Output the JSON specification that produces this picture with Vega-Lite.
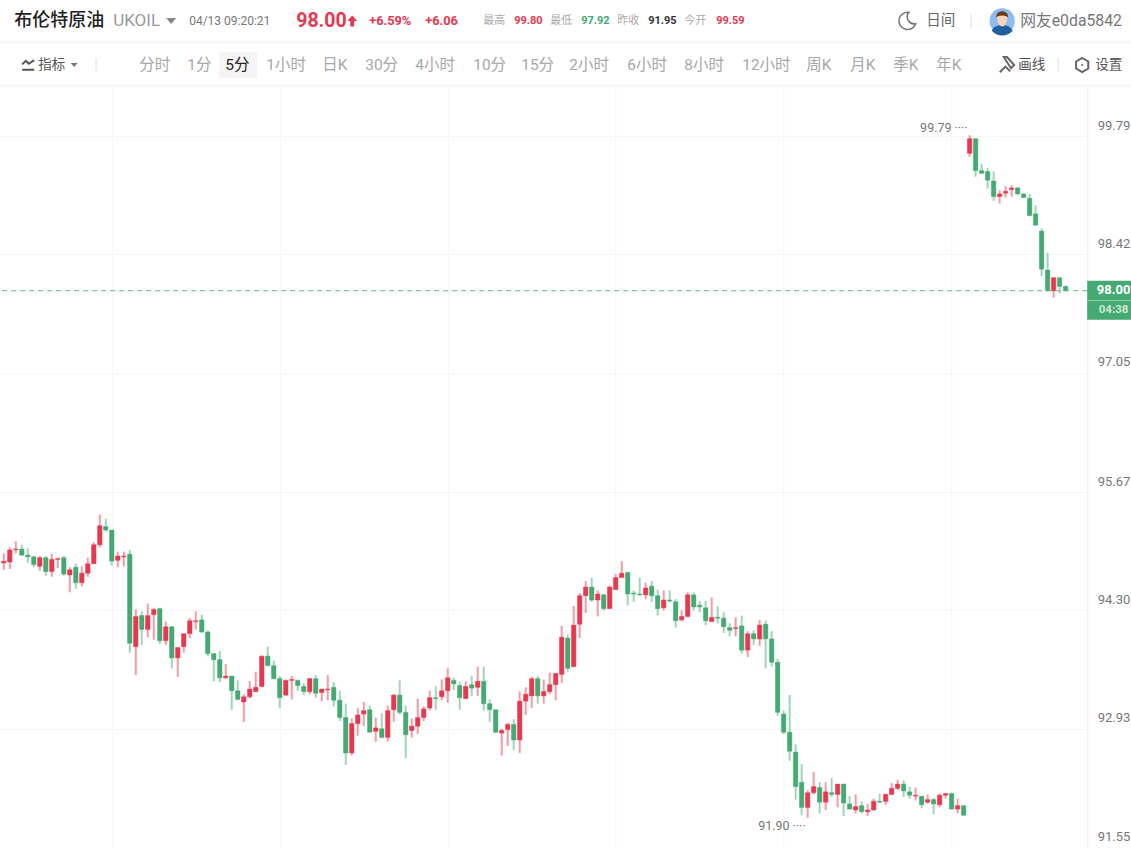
{
  "$schema": "https://vega.github.io/schema/vega-lite/v6.json",
  "padding": {"left": -0.8, "top": 0, "right": 0, "bottom": 0},
  "spacing": 0,
  "bounds": "flush",
  "background": "white",
  "config": {"view": {"stroke": null}, "text": {"font": "Roboto, Noto Sans CJK SC"}},
  "datasets": {
    "candles": [
      {"i":0,"o":94.85,"h":94.96,"l":94.77,"c":94.87},{"i":1,"o":94.86,"h":95.03,"l":94.78,"c":95.0},{"i":2,"o":95.0,"h":95.1,"l":94.96,"c":95.01},{"i":3,"o":95.01,"h":95.06,"l":94.93,"c":94.94},
      {"i":4,"o":94.94,"h":95.02,"l":94.85,"c":94.92},{"i":5,"o":94.92,"h":94.93,"l":94.8,"c":94.83},{"i":6,"o":94.81,"h":94.93,"l":94.76,"c":94.91},{"i":7,"o":94.91,"h":94.93,"l":94.7,"c":94.75},
      {"i":8,"o":94.75,"h":94.95,"l":94.69,"c":94.89},{"i":9,"o":94.89,"h":94.91,"l":94.79,"c":94.9},{"i":10,"o":94.91,"h":94.93,"l":94.7,"c":94.72},{"i":11,"o":94.71,"h":94.8,"l":94.51,"c":94.77},
      {"i":12,"o":94.8,"h":94.84,"l":94.55,"c":94.62},{"i":13,"o":94.62,"h":94.81,"l":94.58,"c":94.73},{"i":14,"o":94.73,"h":94.91,"l":94.69,"c":94.84},{"i":15,"o":94.84,"h":95.09,"l":94.84,"c":95.06},
      {"i":16,"o":95.06,"h":95.41,"l":95.03,"c":95.28},{"i":17,"o":95.27,"h":95.36,"l":95.21,"c":95.23},{"i":18,"o":95.23,"h":95.23,"l":94.82,"c":94.87},{"i":19,"o":94.88,"h":94.98,"l":94.8,"c":94.93},
      {"i":20,"o":94.92,"h":94.98,"l":94.81,"c":94.93},{"i":21,"o":94.95,"h":95.0,"l":93.81,"c":93.92},{"i":22,"o":93.88,"h":94.31,"l":93.55,"c":94.23},{"i":23,"o":94.24,"h":94.29,"l":93.9,"c":94.08},
      {"i":24,"o":94.08,"h":94.38,"l":93.99,"c":94.24},{"i":25,"o":94.25,"h":94.33,"l":93.96,"c":94.31},{"i":26,"o":94.32,"h":94.33,"l":93.91,"c":93.95},{"i":27,"o":93.95,"h":94.17,"l":93.9,"c":94.11},
      {"i":28,"o":94.11,"h":94.12,"l":93.63,"c":93.75},{"i":29,"o":93.75,"h":93.87,"l":93.53,"c":93.87},{"i":30,"o":93.88,"h":94.03,"l":93.81,"c":94.03},{"i":31,"o":94.03,"h":94.21,"l":93.98,"c":94.18},
      {"i":32,"o":94.17,"h":94.29,"l":94.08,"c":94.18},{"i":33,"o":94.19,"h":94.25,"l":94.04,"c":94.05},{"i":34,"o":94.05,"h":94.07,"l":93.77,"c":93.8},{"i":35,"o":93.8,"h":93.8,"l":93.48,"c":93.73},
      {"i":36,"o":93.73,"h":93.83,"l":93.47,"c":93.52},{"i":37,"o":93.52,"h":93.68,"l":93.51,"c":93.54},{"i":38,"o":93.54,"h":93.54,"l":93.15,"c":93.37},{"i":39,"o":93.37,"h":93.49,"l":93.26,"c":93.27},
      {"i":40,"o":93.24,"h":93.33,"l":93.01,"c":93.3},{"i":41,"o":93.3,"h":93.48,"l":93.28,"c":93.39},{"i":42,"o":93.36,"h":93.59,"l":93.36,"c":93.41},{"i":43,"o":93.42,"h":93.78,"l":93.41,"c":93.77},
      {"i":44,"o":93.77,"h":93.88,"l":93.66,"c":93.66},{"i":45,"o":93.66,"h":93.72,"l":93.5,"c":93.51},{"i":46,"o":93.51,"h":93.54,"l":93.17,"c":93.29},{"i":47,"o":93.32,"h":93.5,"l":93.31,"c":93.49},
      {"i":48,"o":93.49,"h":93.54,"l":93.27,"c":93.5},{"i":49,"o":93.49,"h":93.5,"l":93.37,"c":93.43},{"i":50,"o":93.42,"h":93.46,"l":93.32,"c":93.36},{"i":51,"o":93.36,"h":93.52,"l":93.33,"c":93.51},
      {"i":52,"o":93.51,"h":93.55,"l":93.29,"c":93.34},{"i":53,"o":93.35,"h":93.39,"l":93.25,"c":93.39},{"i":54,"o":93.38,"h":93.55,"l":93.26,"c":93.39},{"i":55,"o":93.41,"h":93.47,"l":93.19,"c":93.26},
      {"i":56,"o":93.26,"h":93.37,"l":93.02,"c":93.06},{"i":57,"o":93.06,"h":93.22,"l":92.51,"c":92.65},{"i":58,"o":92.65,"h":93.05,"l":92.62,"c":92.99},{"i":59,"o":92.99,"h":93.17,"l":92.85,"c":93.09},
      {"i":60,"o":93.1,"h":93.24,"l":92.96,"c":93.14},{"i":61,"o":93.15,"h":93.2,"l":92.89,"c":92.89},{"i":62,"o":92.9,"h":93.06,"l":92.78,"c":92.94},{"i":63,"o":92.93,"h":93.11,"l":92.82,"c":92.83},
      {"i":64,"o":92.83,"h":93.2,"l":92.78,"c":93.14},{"i":65,"o":93.15,"h":93.33,"l":93.01,"c":93.32},{"i":66,"o":93.32,"h":93.49,"l":93.09,"c":93.12},{"i":67,"o":93.12,"h":93.2,"l":92.59,"c":92.86},
      {"i":68,"o":92.91,"h":93.05,"l":92.83,"c":92.96},{"i":69,"o":92.96,"h":93.28,"l":92.87,"c":93.06},{"i":70,"o":93.06,"h":93.19,"l":93.02,"c":93.16},{"i":71,"o":93.17,"h":93.37,"l":93.14,"c":93.29},
      {"i":72,"o":93.29,"h":93.42,"l":93.15,"c":93.28},{"i":73,"o":93.3,"h":93.5,"l":93.26,"c":93.37},{"i":74,"o":93.37,"h":93.63,"l":93.23,"c":93.52},{"i":75,"o":93.49,"h":93.52,"l":93.38,"c":93.45},
      {"i":76,"o":93.43,"h":93.47,"l":93.15,"c":93.29},{"i":77,"o":93.28,"h":93.48,"l":93.27,"c":93.42},{"i":78,"o":93.44,"h":93.54,"l":93.31,"c":93.4},{"i":79,"o":93.41,"h":93.65,"l":93.31,"c":93.48},
      {"i":80,"o":93.48,"h":93.65,"l":93.14,"c":93.22},{"i":81,"o":93.22,"h":93.27,"l":93.01,"c":93.15},{"i":82,"o":93.15,"h":93.15,"l":92.88,"c":92.89},{"i":83,"o":92.88,"h":92.93,"l":92.62,"c":92.91},
      {"i":84,"o":92.92,"h":93.0,"l":92.73,"c":92.98},{"i":85,"o":92.98,"h":93.04,"l":92.68,"c":92.8},{"i":86,"o":92.8,"h":93.36,"l":92.65,"c":93.25},{"i":87,"o":93.25,"h":93.41,"l":93.09,"c":93.33},
      {"i":88,"o":93.31,"h":93.53,"l":93.17,"c":93.51},{"i":89,"o":93.51,"h":93.54,"l":93.22,"c":93.31},{"i":90,"o":93.31,"h":93.5,"l":93.22,"c":93.36},{"i":91,"o":93.36,"h":93.58,"l":93.33,"c":93.44},
      {"i":92,"o":93.44,"h":93.57,"l":93.26,"c":93.57},{"i":93,"o":93.56,"h":94.12,"l":93.46,"c":93.99},{"i":94,"o":93.98,"h":94.02,"l":93.59,"c":93.63},{"i":95,"o":93.65,"h":94.35,"l":93.64,"c":94.13},
      {"i":96,"o":94.14,"h":94.5,"l":93.98,"c":94.47},{"i":97,"o":94.47,"h":94.64,"l":94.27,"c":94.57},{"i":98,"o":94.57,"h":94.68,"l":94.4,"c":94.42},{"i":99,"o":94.42,"h":94.53,"l":94.23,"c":94.49},
      {"i":100,"o":94.48,"h":94.49,"l":94.3,"c":94.32},{"i":101,"o":94.32,"h":94.59,"l":94.32,"c":94.57},{"i":102,"o":94.54,"h":94.72,"l":94.54,"c":94.68},{"i":103,"o":94.68,"h":94.87,"l":94.68,"c":94.73},
      {"i":104,"o":94.74,"h":94.74,"l":94.36,"c":94.49},{"i":105,"o":94.5,"h":94.53,"l":94.4,"c":94.49},{"i":106,"o":94.49,"h":94.68,"l":94.47,"c":94.48},{"i":107,"o":94.48,"h":94.62,"l":94.43,"c":94.56},
      {"i":108,"o":94.58,"h":94.64,"l":94.4,"c":94.47},{"i":109,"o":94.47,"h":94.54,"l":94.24,"c":94.32},{"i":110,"o":94.33,"h":94.53,"l":94.3,"c":94.42},{"i":111,"o":94.42,"h":94.53,"l":94.39,"c":94.41},
      {"i":112,"o":94.4,"h":94.43,"l":94.1,"c":94.18},{"i":113,"o":94.19,"h":94.3,"l":94.17,"c":94.23},{"i":114,"o":94.23,"h":94.51,"l":94.22,"c":94.48},{"i":115,"o":94.48,"h":94.51,"l":94.3,"c":94.34},
      {"i":116,"o":94.36,"h":94.41,"l":94.28,"c":94.34},{"i":117,"o":94.33,"h":94.41,"l":94.13,"c":94.18},{"i":118,"o":94.17,"h":94.45,"l":94.17,"c":94.22},{"i":119,"o":94.22,"h":94.35,"l":94.15,"c":94.21},
      {"i":120,"o":94.21,"h":94.28,"l":94.04,"c":94.11},{"i":121,"o":94.1,"h":94.15,"l":94.0,"c":94.07},{"i":122,"o":94.09,"h":94.22,"l":94.0,"c":94.1},{"i":123,"o":94.12,"h":94.24,"l":93.8,"c":93.84},
      {"i":124,"o":93.84,"h":94.06,"l":93.76,"c":94.03},{"i":125,"o":94.03,"h":94.07,"l":93.9,"c":93.97},{"i":126,"o":93.97,"h":94.19,"l":93.89,"c":94.13},{"i":127,"o":94.14,"h":94.18,"l":93.63,"c":93.97},
      {"i":128,"o":93.97,"h":94.06,"l":93.65,"c":93.7},{"i":129,"o":93.7,"h":93.74,"l":93.08,"c":93.12},{"i":130,"o":93.1,"h":93.14,"l":92.87,"c":92.89},{"i":131,"o":92.89,"h":93.32,"l":92.56,"c":92.67},
      {"i":132,"o":92.66,"h":92.75,"l":92.11,"c":92.26},{"i":133,"o":92.31,"h":92.52,"l":91.93,"c":92.02},{"i":134,"o":92.02,"h":92.22,"l":91.9,"c":92.19},{"i":135,"o":92.19,"h":92.43,"l":92.17,"c":92.26},
      {"i":136,"o":92.25,"h":92.31,"l":91.95,"c":92.08},{"i":137,"o":92.08,"h":92.31,"l":91.99,"c":92.2},{"i":138,"o":92.19,"h":92.36,"l":92.14,"c":92.17},{"i":139,"o":92.17,"h":92.29,"l":92.02,"c":92.29},
      {"i":140,"o":92.29,"h":92.29,"l":91.92,"c":92.07},{"i":141,"o":92.06,"h":92.15,"l":92.0,"c":92.0},{"i":142,"o":91.99,"h":92.17,"l":91.95,"c":92.03},{"i":143,"o":92.04,"h":92.09,"l":91.95,"c":91.97},
      {"i":144,"o":91.97,"h":92.06,"l":91.92,"c":91.99},{"i":145,"o":91.99,"h":92.12,"l":91.98,"c":92.09},{"i":146,"o":92.09,"h":92.18,"l":92.07,"c":92.08},{"i":147,"o":92.09,"h":92.18,"l":92.05,"c":92.17},
      {"i":148,"o":92.17,"h":92.3,"l":92.16,"c":92.24},{"i":149,"o":92.24,"h":92.34,"l":92.22,"c":92.29},{"i":150,"o":92.29,"h":92.33,"l":92.14,"c":92.21},{"i":151,"o":92.2,"h":92.26,"l":92.12,"c":92.16},
      {"i":152,"o":92.15,"h":92.25,"l":92.1,"c":92.16},{"i":153,"o":92.15,"h":92.15,"l":92.01,"c":92.05},{"i":154,"o":92.08,"h":92.17,"l":92.06,"c":92.11},{"i":155,"o":92.11,"h":92.13,"l":91.94,"c":92.06},
      {"i":156,"o":92.05,"h":92.18,"l":92.02,"c":92.16},{"i":157,"o":92.16,"h":92.19,"l":92.12,"c":92.18},{"i":158,"o":92.18,"h":92.19,"l":92.0,"c":92.0},{"i":159,"o":92.0,"h":92.12,"l":91.95,"c":92.04},
      {"i":160,"o":92.04,"h":92.04,"l":91.92,"c":91.93},{"i":161,"o":99.59,"h":99.8,"l":99.55,"c":99.76},{"i":162,"o":99.76,"h":99.76,"l":99.32,"c":99.39},{"i":163,"o":99.39,"h":99.47,"l":99.35,"c":99.36},
      {"i":164,"o":99.38,"h":99.42,"l":99.18,"c":99.28},{"i":165,"o":99.27,"h":99.38,"l":99.04,"c":99.09},{"i":166,"o":99.09,"h":99.16,"l":99.01,"c":99.12},{"i":167,"o":99.13,"h":99.21,"l":99.08,"c":99.15},
      {"i":168,"o":99.17,"h":99.22,"l":99.09,"c":99.19},{"i":169,"o":99.19,"h":99.2,"l":99.11,"c":99.12},{"i":170,"o":99.12,"h":99.13,"l":99.07,"c":99.08},{"i":171,"o":99.07,"h":99.12,"l":98.86,"c":98.87},
      {"i":172,"o":98.89,"h":98.99,"l":98.75,"c":98.76},{"i":173,"o":98.69,"h":98.72,"l":98.17,"c":98.25},{"i":174,"o":98.24,"h":98.44,"l":97.99,"c":98.0},{"i":175,"o":98.0,"h":98.16,"l":97.92,"c":98.15},
      {"i":176,"o":98.15,"h":98.15,"l":97.97,"c":98.05},{"i":177,"o":98.05,"h":98.06,"l":98.0,"c":98.0}
    ]
  },
  "vconcat": [
    {
      "width": 1131,
      "height": 87,
      "encoding": {
        "x": {
          "field": "item",
          "type": "quantitative",
          "axis": null,
          "scale": {
            "domain": [0,1,2,3,4,5,6,7,8,9,10,11,12,13,14,15,16,17,18,19,20,21,22,23,24,25,26,27,28,29,30,31,32,33,34,35,36,37,38,39,40,41,42,43,44,45,46,47],
            "range": [14,113,189,296,369,425,483,514,550,581,617,648,684,716,926,1020,38,139,187,225,266,322,365,415,473,521,569,627,684,742,806,850,893,936,1018,1095,171,352,907,1002,971,28,74,238,96,1006,1058,1082]
          }
        },
        "y": {
          "field": "row",
          "type": "quantitative",
          "axis": null,
          "scale": {"domain": [0,1,2,3], "range": [21,65,42,86]}
        },
        "text": {"field": "label"}
      },
      "layer": [
        {
          "data": {"values": [{"row":2},{"row":3}]},
          "mark": {"type": "rule", "color": "#f1f1f1"},
          "encoding": {"x": null}
        },
        {
          "data": {"values": [{"item":43,"row":1}]},
          "mark": {"type": "point", "shape": "M-1,-0.7L1,-0.7L1,0.7L-1,0.7Z", "size": 1444, "filled": true, "color": "#f5f5f5", "opacity": 1}
        },
        {
          "data": {"values": [{"item":0,"row":0,"label":"布伦特原油"}]},
          "mark": {"type": "text", "align": "left", "fontSize": 18, "fontWeight": 500, "color": "#222222"}
        },
        {
          "data": {"values": [{"item":1,"row":0,"label":"UKOIL"}]},
          "mark": {"type": "text", "align": "left", "fontSize": 17, "color": "#999999"}
        },
        {
          "data": {"values": [{"item":2,"row":0,"label":"04/13 09:20:21"}]},
          "mark": {"type": "text", "align": "left", "fontSize": 12, "color": "#777777"}
        },
        {
          "data": {"values": [{"item":3,"row":0,"label":"98.00"}]},
          "mark": {"type": "text", "align": "left", "fontSize": 19.5, "fontWeight": 700, "color": "#e8384f"}
        },
        {
          "data": {"values": [{"item":4,"row":0,"label":"+6.59%"},{"item":5,"row":0,"label":"+6.06"}]},
          "mark": {"type": "text", "align": "left", "fontSize": 12.8, "fontWeight": 700, "color": "#e8384f"}
        },
        {
          "data": {"values": [{"item":6,"row":0,"label":"最高"},{"item":8,"row":0,"label":"最低"},{"item":10,"row":0,"label":"昨收"},{"item":12,"row":0,"label":"今开"}]},
          "mark": {"type": "text", "align": "left", "fontSize": 11, "color": "#aaaaaa"}
        },
        {
          "data": {"values": [{"item":7,"row":0,"label":"99.80"},{"item":13,"row":0,"label":"99.59"}]},
          "mark": {"type": "text", "align": "left", "fontSize": 11, "fontWeight": 700, "color": "#e8384f"}
        },
        {
          "data": {"values": [{"item":9,"row":0,"label":"97.92"}]},
          "mark": {"type": "text", "align": "left", "fontSize": 11, "fontWeight": 700, "color": "#3fa873"}
        },
        {
          "data": {"values": [{"item":11,"row":0,"label":"91.95"}]},
          "mark": {"type": "text", "align": "left", "fontSize": 11, "fontWeight": 700, "color": "#333333"}
        },
        {
          "data": {"values": [{"item":14,"row":0,"label":"日间"}]},
          "mark": {"type": "text", "align": "left", "fontSize": 14.5, "color": "#666666"}
        },
        {
          "data": {"values": [{"item":15,"row":0,"label":"网友e0da5842"}]},
          "mark": {"type": "text", "align": "left", "fontSize": 15.8, "color": "#777777"}
        },
        {
          "data": {"values": [{"item":16,"row":1,"label":"指标"},{"item":34,"row":1,"label":"画线"},{"item":35,"row":1,"label":"设置"}]},
          "mark": {"type": "text", "align": "left", "fontSize": 13.5, "color": "#555555"}
        },
        {
          "data": {"values": [
            {"item":17,"row":1,"label":"分时"},{"item":18,"row":1,"label":"1分"},{"item":20,"row":1,"label":"1小时"},{"item":21,"row":1,"label":"日K"},
            {"item":22,"row":1,"label":"30分"},{"item":23,"row":1,"label":"4小时"},{"item":24,"row":1,"label":"10分"},{"item":25,"row":1,"label":"15分"},
            {"item":26,"row":1,"label":"2小时"},{"item":27,"row":1,"label":"6小时"},{"item":28,"row":1,"label":"8小时"},{"item":29,"row":1,"label":"12小时"},
            {"item":30,"row":1,"label":"周K"},{"item":31,"row":1,"label":"月K"},{"item":32,"row":1,"label":"季K"},{"item":33,"row":1,"label":"年K"}
          ]},
          "mark": {"type": "text", "align": "left", "fontSize": 15.5, "color": "#a8a8a8"}
        },
        {
          "data": {"values": [{"item":19,"row":1,"label":"5分"}]},
          "mark": {"type": "text", "align": "left", "fontSize": 15.5, "color": "#222222"}
        },
        {
          "data": {"values": [{"item":36,"row":0}]},
          "mark": {"type": "point", "shape": "M-1,-0.6L1,-0.6L0,0.6Z", "size": 100, "filled": true, "color": "#888888", "opacity": 1}
        },
        {
          "data": {"values": [{"item":42,"row":1}]},
          "mark": {"type": "point", "shape": "M-1,-0.6L1,-0.6L0,0.6Z", "size": 49, "filled": true, "color": "#777777", "opacity": 1}
        },
        {
          "data": {"values": [{"item":37,"row":0}]},
          "mark": {"type": "point", "shape": "M0,-1L0.9,0L0.35,0L0.35,1L-0.35,1L-0.35,0L-0.9,0Z", "size": 121, "filled": true, "color": "#e8384f", "opacity": 1}
        },
        {
          "data": {"values": [{"item":38,"row":0}]},
          "mark": {"type": "point", "shape": "M0.2,-1A1,1,0,1,0,1,0.3A0.8,0.8,0,0,1,0.2,-1Z", "size": 300, "filled": false, "color": "#777777", "strokeWidth": 1.5, "opacity": 1}
        },
        {
          "data": {"values": [{"item":40,"row":0},{"item":44,"row":1},{"item":46,"row":1}]},
          "mark": {"type": "point", "shape": "M0,-1L0,1", "size": 196, "filled": false, "color": "#eeeeee", "opacity": 1}
        },
        {
          "data": {"values": [{"item":39,"row":0}]},
          "mark": {"type": "point", "shape": "circle", "size": 640, "filled": true, "color": "#8fbcf0", "opacity": 1}
        },
        {
          "data": {"values": [{"item":39,"row":0}]},
          "mark": {"type": "point", "shape": "M-0.75,0.7C-0.6,0.35,-0.3,0.35,-0.2,0.3L0.2,0.3C0.3,0.35,0.6,0.35,0.75,0.7A1,1,0,0,1,-0.75,0.7Z", "size": 784, "filled": true, "color": "#1f5f9e", "opacity": 1}
        },
        {
          "data": {"values": [{"item":39,"row":0}]},
          "mark": {"type": "point", "shape": "M-0.38,-0.35C-0.38,-0.7,0.38,-0.7,0.38,-0.35C0.38,0.1,0.2,0.4,0,0.4C-0.2,0.4,-0.38,0.1,-0.38,-0.35Z", "size": 784, "filled": true, "color": "#f6d3bb", "opacity": 1}
        },
        {
          "data": {"values": [{"item":39,"row":0}]},
          "mark": {"type": "point", "shape": "M-0.42,-0.25C-0.5,-0.85,0.5,-0.85,0.42,-0.25C0.3,-0.45,-0.3,-0.45,-0.42,-0.25Z", "size": 784, "filled": true, "color": "#6b3b1e", "opacity": 1}
        },
        {
          "data": {"values": [{"item":41,"row":1}]},
          "mark": {"type": "point", "shape": "M-1,-0.1L-0.4,-0.7L0.1,-0.2L1,-0.8M-1,0.8L1,0.8", "size": 144, "filled": false, "color": "#555555", "opacity": 1}
        },
        {
          "data": {"values": [{"item":45,"row":1}]},
          "mark": {"type": "point", "shape": "M-0.3,-1L0.1,-1L1,0L0.6,0.4ZM-0.8,0.9L-0.1,0.2L0.5,0.8", "size": 256, "filled": false, "color": "#666666", "opacity": 1}
        },
        {
          "data": {"values": [{"item":47,"row":1}]},
          "mark": {"type": "point", "shape": "M0,-1L0.87,-0.5L0.87,0.5L0,1L-0.87,0.5L-0.87,-0.5ZM0,-0.12L0,0.12", "size": 196, "filled": false, "color": "#666666", "opacity": 1}
        }
      ]
    },
    {
      "width": 1087,
      "height": 761,
      "encoding": {
        "x": {
          "field": "i",
          "type": "quantitative",
          "title": null,
          "scale": {"domain": [-0.6, 180.6], "nice": false, "zero": false, "padding": 0},
          "axis": {"values": [18,46,74,102,130,158], "labels": false, "ticks": false, "domain": false, "grid": true, "gridColor": "#f6f6f6", "title": null}
        }
      },
      "layer": [
        {
          "data": {"name": "candles"},
          "mark": {"type": "rule", "strokeWidth": 2, "opacity": 0.5},
          "encoding": {
            "y": {
              "field": "l",
              "type": "quantitative",
              "title": null,
              "scale": {"domain": [91.55, 100.358], "nice": false, "zero": false},
              "axis": {
                "orient": "right",
                "values": [99.79,98.42,97.05,95.67,94.30,92.93,91.55],
                "format": ".2f",
                "grid": true,
                "gridColor": "#f6f6f6",
                "ticks": false,
                "domainColor": "#eeeeee",
                "labelColor": "#777777",
                "labelFont": "Roboto",
                "labelFontSize": 13,
                "labelOffset": -11,
                "labelPadding": 10,
                "labelOverlap": false,
                "labelBound": false,
                "title": null
              }
            },
            "y2": {"field": "h"},
            "color": {"condition": {"test": "datum.c >= datum.o", "value": "#e8384f"}, "value": "#45a973"}
          }
        },
        {
          "data": {"name": "candles"},
          "mark": {"type": "bar", "width": 4.5, "strokeWidth": 1, "strokeOpacity": 0.45},
          "encoding": {
            "y": {"field": "o", "type": "quantitative"},
            "y2": {"field": "c"},
            "color": {"condition": {"test": "datum.c >= datum.o", "value": "#e8384f"}, "value": "#45a973"},
            "stroke": {"condition": {"test": "datum.c >= datum.o", "value": "#e8384f"}, "value": "#45a973"}
          }
        },
        {
          "data": {"values": [{"price": 98.0}]},
          "mark": {"type": "rule", "color": "#62b78d", "strokeDash": [5, 4], "strokeWidth": 1},
          "encoding": {"x": null, "y": {"field": "price", "type": "quantitative"}}
        },
        {
          "data": {"values": [{"i": 161, "price": 99.79, "label": "99.79 ····"}]},
          "mark": {"type": "text", "align": "right", "dx": -2, "dy": -8, "fontSize": 12.5, "color": "#777777"},
          "encoding": {"y": {"field": "price", "type": "quantitative"}, "text": {"field": "label"}}
        },
        {
          "data": {"values": [{"i": 134, "price": 91.9, "label": "91.90 ····"}]},
          "mark": {"type": "text", "align": "right", "dx": -2, "dy": 8, "fontSize": 12.5, "color": "#777777"},
          "encoding": {"y": {"field": "price", "type": "quantitative"}, "text": {"field": "label"}}
        },
        {
          "data": {"values": [{"i": 180.6, "i2": 187.94, "price": 98.115, "price2": 97.664}]},
          "mark": {"type": "rect", "color": "#45a973"},
          "encoding": {
            "x2": {"field": "i2"},
            "y": {"field": "price", "type": "quantitative"},
            "y2": {"field": "price2"}
          }
        },
        {
          "data": {"values": [{"i": 180.6, "i2": 187.94, "price": 97.887}]},
          "mark": {"type": "rule", "color": "#8fd0ae", "strokeWidth": 1},
          "encoding": {
            "x2": {"field": "i2"},
            "y": {"field": "price", "type": "quantitative"}
          }
        },
        {
          "data": {"values": [{"i": 185, "price": 98.01, "label": "98.00"}]},
          "mark": {"type": "text", "fontSize": 13, "fontWeight": 700, "color": "#ffffff"},
          "encoding": {
            "y": {"field": "price", "type": "quantitative"},
            "text": {"field": "label"}
          }
        },
        {
          "data": {"values": [{"i": 185, "price": 97.78, "label": "04:38"}]},
          "mark": {"type": "text", "fontSize": 11.5, "fontWeight": 700, "color": "#cbe9d9"},
          "encoding": {
            "y": {"field": "price", "type": "quantitative"},
            "text": {"field": "label"}
          }
        }
      ]
    }
  ],
  "resolve": {"scale": {"x": "independent", "y": "independent"}}
}
